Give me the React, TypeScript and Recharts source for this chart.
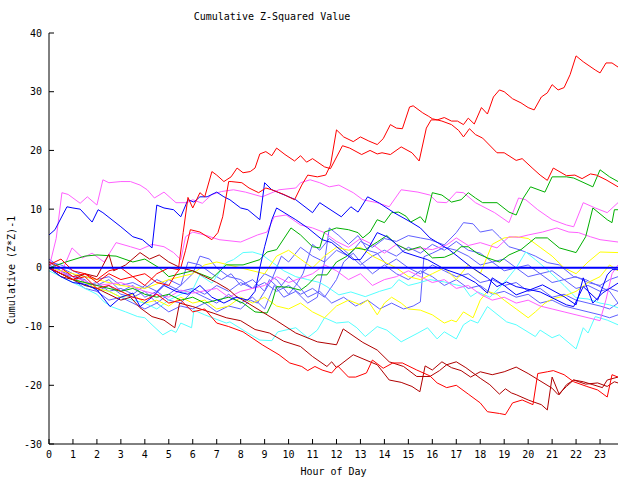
import { LineChart, Line, XAxis, YAxis } from 'recharts';

// each series: [hour, cumulative value]
const hours = [0, 1, 2, 3, 4, 5, 6, 7, 8, 9, 10, 11, 12, 13, 14, 15, 16, 17, 18, 19, 20, 21, 22, 23];
const yTicks = [-30, -20, -10, 0, 10, 20, 30, 40];

const red1 = [[0,1],[0.5,0],[1,-1.5],[1.5,-1],[2,-2.5],[2.5,-1],[3,-2],[3.5,-1.5],[4,-3],[4.5,-1],[5,0],[5.4,-0.3],[5.6,6],[5.8,12],[6,10.2],[6.3,12.8],[6.5,12.1],[6.8,16.4],[7,15.8],[7.3,14.7],[7.6,15.5],[7.85,17],[8.1,16.2],[8.4,16.4],[8.6,17],[8.8,19.4],[9.05,19.8],[9.3,19.1],[9.5,20.4],[9.85,19.3],[10.25,18.2],[10.5,19.1],[10.75,18],[11,18.6],[11.5,17.2],[11.75,16.9],[12.25,20.8],[12.55,20.4],[13.05,19.3],[13.4,20],[13.7,19.4],[13.9,19.6],[14.25,19.3],[14.7,20.6],[15.15,19.6],[15.45,18.2],[15.75,23.8],[15.95,25.2],[16.2,25.2],[16.5,25.6],[16.8,25],[17.05,25],[17.3,24.4],[17.5,25.5],[17.75,24.5],[18.05,27.3],[18.3,26.2],[18.55,29.1],[18.8,30.3],[19,30],[19.35,28.8],[19.7,28.1],[20,27.3],[20.25,26.9],[20.55,29.1],[20.8,29.8],[21,31.2],[21.25,30.3],[21.5,30.7],[21.75,32.9],[22,36.1],[22.3,35.1],[22.8,33.7],[23,33.2],[23.25,34.9],[23.5,34.9],[23.75,34.2]];
const red2 = [[0,0.5],[0.5,1.5],[1,-0.5],[1.5,-1],[2,-2],[2.5,-0.5],[3,0],[3.5,-1.5],[4,-1],[4.5,-2.5],[5,-3],[5.3,-1],[5.5,0],[5.7,3],[5.9,6.5],[6.3,6.1],[6.8,4.8],[7.05,6],[7.25,8.7],[7.5,14.7],[7.6,14.7],[8.05,14.5],[8.35,13.6],[8.75,12.8],[9.05,13.6],[9.3,13.3],[9.8,12.5],[10.25,11.6],[10.55,14.1],[10.8,15.8],[11.2,15.5],[11.55,15.8],[11.75,17.5],[12,23.5],[12.3,22.3],[12.7,21.5],[13,22.3],[13.35,21.6],[13.7,21],[13.95,22],[14.25,24.4],[14.5,23.8],[14.75,23.7],[15.05,27.4],[15.2,27.6],[15.6,26.4],[15.85,25.8],[16,25.4],[16.4,25],[16.8,24.4],[17.1,23.4],[17.3,22.3],[17.55,23.7],[17.8,22.7],[18.1,22.1],[18.7,19.6],[19,19.6],[19.5,18.3],[19.75,18.6],[20.2,16.9],[20.5,15.8],[20.8,14.9],[21.05,17],[21.6,15.7],[21.95,15.8],[22.25,15.2],[22.6,16],[22.85,15.8],[23.25,15],[23.75,13.8]];
const red3 = [[0,0],[0.5,-1],[1,-2],[1.5,-1.5],[2,-3.5],[2.5,-3],[3,-4],[3.5,-5],[4,-5.5],[4.5,-4.5],[5,-6],[5.5,-5.5],[6,-7.5],[6.5,-7],[7,-9.4],[7.5,-10],[8.1,-10.9],[8.9,-13.1],[9.6,-14.8],[10.05,-16.2],[10.55,-16.8],[10.8,-17.5],[11.1,-16.8],[11.4,-17.4],[11.8,-17.9],[12.05,-16.7],[12.5,-18.6],[12.8,-18.6],[13.25,-17.9],[13.5,-15.7],[13.95,-17.1],[14.35,-16.2],[14.75,-16.2],[15.35,-17.4],[15.9,-18.4],[16.2,-19.6],[16.6,-20.4],[17,-20],[17.5,-21.5],[18,-23],[18.3,-24.5],[18.8,-24.8],[19.05,-25],[19.35,-23],[19.75,-22.5],[20.2,-23.3],[20.4,-18],[20.8,-17.7],[21.05,-17.5],[21.5,-18.2],[21.9,-19.4],[22.45,-20.2],[22.9,-20.8],[23.3,-22],[23.5,-18.2],[23.75,-18.6]];
const darkRed1 = [[0,0],[0.5,-1],[1,-2],[1.5,-1],[2,-1.5],[2.5,2.3],[2.7,-0.5],[3.2,0.5],[3.8,2.6],[4.2,1.5],[4.6,2.2],[5,1],[5.5,0],[6,-0.5],[6.5,-1.5],[7,-2.5],[7.5,-3.7],[7.8,-4.8],[8.3,-6],[8.9,-7.5],[9.5,-9],[10.3,-11.1],[11.2,-12.6],[12,-13.1],[12.28,-10.4],[13.1,-12.7],[13.7,-14],[14.2,-16],[14.8,-16.8],[15.35,-18.5],[15.9,-18.5],[16.3,-17.5],[16.6,-16.5],[17,-16],[17.4,-17],[18,-18.8],[18.4,-19.9],[18.8,-21.5],[19.05,-20.6],[19.3,-21.3],[19.5,-21.6],[20,-22.5],[20.2,-22.8],[20.55,-23.3],[20.8,-24.2],[21,-18.6],[21.3,-21.6],[21.6,-19.9],[21.9,-19.1],[22.3,-19.4],[22.7,-19.9],[23.1,-20.4],[23.3,-19.1],[23.75,-18.6]];
const darkRed2 = [[0,0],[0.5,-1.5],[1,-2],[1.5,-3],[2,-3.5],[2.5,-4.5],[3,-5.5],[3.4,-5],[3.8,-6.8],[4.3,-8.3],[4.8,-8.9],[5.25,-10.2],[5.45,-6],[6,-6.6],[6.85,-7.7],[7.4,-8.5],[8,-9],[8.6,-10.5],[9.2,-11.1],[9.8,-12.5],[10.5,-13.4],[11,-15.1],[11.6,-16.8],[11.8,-16],[12,-17],[12.7,-14.8],[13.4,-16],[13.7,-16.5],[14.2,-19.1],[14.7,-19.5],[15.15,-20.2],[15.48,-21.1],[15.7,-16.7],[16,-17.4],[16.4,-16],[16.8,-17],[17.2,-17.5],[17.6,-18.6],[18,-17.7],[18.5,-18.2],[19,-17.7],[19.5,-16.9],[20,-18],[20.4,-19],[21,-20.5],[21.25,-21.6],[21.6,-20.2],[21.9,-19.1],[22.4,-19.8],[22.9,-19.6],[23.3,-20.2],[23.6,-19.4],[23.75,-19.6]];
const magenta1 = [[0,0],[0.3,5],[0.54,12.8],[0.8,12.5],[1,11.9],[1.3,11],[1.6,12.1],[2,10.7],[2.25,15],[2.5,14.5],[3,14.7],[3.4,14.7],[3.8,14.1],[4.1,13.3],[4.4,11.9],[4.8,12.9],[5.3,11.1],[5.75,11.1],[6,11.6],[6.4,11],[6.8,12.5],[7.2,13],[7.7,13.3],[8.2,12.9],[8.9,12.1],[9.6,13.3],[10.3,13.6],[10.5,14.5],[10.9,15],[11.3,14.5],[11.7,13.8],[12.1,14.1],[12.7,12.8],[13.1,11.6],[13.7,11.1],[14.2,10.4],[14.7,13.3],[15.4,12.9],[15.9,12.4],[16.2,11.2],[16.6,11.1],[17,12.9],[17.3,12.8],[17.8,11.1],[18.6,9.4],[19.2,7.7],[19.6,11.9],[19.9,11.6],[20.4,9.9],[21,8.2],[21.6,7.3],[21.9,7],[22.3,11.1],[22.8,10.2],[23.3,9.4],[23.75,11.1]];
const magenta2 = [[0,0],[0.5,-1],[0.96,3.4],[1.4,1.7],[1.8,2.5],[2.3,1],[2.8,4.3],[3.4,3.6],[3.8,3.1],[4.3,4],[4.8,3.6],[5.2,2.6],[5.5,1.4],[5.7,5.3],[6,6.1],[6.5,5.6],[7.1,4.8],[8,4.4],[8.7,5.6],[9.1,6.1],[9.4,8.7],[9.9,9],[10.5,7.3],[11,6.8],[11.5,6],[12,4.5],[12.5,3.5],[13,5],[13.5,4],[14,2.5],[14.5,4],[15,3],[15.5,3.4],[16,3.1],[16.6,3.9],[17,5.1],[17.5,3.8],[18,4.3],[18.7,3.4],[19.2,5.3],[19.6,5.2],[20,5.6],[20.6,6.1],[21.2,6.8],[21.7,6.1],[22.1,6],[22.6,5.3],[23,4.8],[23.75,4.4]];
const magenta3 = [[0,0],[1,-1.5],[2,-3],[3,-2.5],[4,-4],[5,-5],[5.5,-3.8],[6,-4.3],[7,-3.5],[7.5,-5],[8,-4],[9,-3],[9.5,-1.5],[10,-2.5],[11,-1],[11.5,0.5],[12,-0.5],[12.5,-2],[13,-1],[13.5,-3],[14,-2],[14.5,-1.5],[15,-0.5],[15.5,-1.5],[16,-2.5],[16.5,-2],[17,-3.5],[17.5,-3],[18,-4.5],[18.5,-5.5],[19,-5],[19.5,-6],[20,-5.5],[20.5,-6.5],[21,-7],[21.5,-7.5],[22,-8],[22.5,-8.5],[23,-9],[23.25,-5.4],[23.5,-1],[23.75,0.5]];
const cyan1 = [[0,-0.5],[0.5,-1.5],[1,-2.5],[1.5,-3.5],[2,-4.5],[2.3,-5.8],[2.6,-6.6],[3.2,-7.5],[3.7,-8.3],[4,-8.5],[4.3,-9.7],[4.75,-11.4],[5.1,-10.6],[5.3,-11],[5.5,-9.4],[5.95,-10.2],[6.05,-7.2],[6.5,-8],[7.4,-9.4],[7.55,-9.2],[8.3,-11.1],[8.8,-12.3],[9.3,-12.4],[9.55,-10.9],[10.3,-10.2],[10.8,-11.9],[11.2,-10.6],[11.5,-8.5],[12,-9.4],[12.5,-9.2],[12.85,-10.2],[13.2,-11.7],[13.7,-10],[14.1,-10.6],[14.7,-12.6],[15.4,-11.1],[15.8,-10.2],[16.2,-12.1],[16.5,-10.9],[17,-12.1],[17.3,-9.7],[17.6,-8.9],[17.9,-9.4],[18.3,-6.6],[19.1,-9.2],[19.5,-9.7],[20.3,-11.7],[20.5,-10.6],[21,-11.9],[21.3,-11.4],[22,-13.8],[22.3,-10.2],[22.5,-11.1],[22.8,-8.3],[23.3,-8.9],[23.75,-9.7]];
const cyan2 = [[0,0],[0.5,-1],[1,-2],[1.5,-3],[2,-3.5],[2.5,-4],[3,-5],[3.5,-5.5],[4,-6],[4.5,-7],[5,-5.5],[5.5,-4.5],[6,-3.7],[6.3,-1.2],[6.8,-2.6],[7.4,0.9],[7.7,1.4],[8.1,2.6],[8.5,2.7],[8.9,2.2],[9.3,1],[9.8,-0.5],[10.3,-1.5],[10.8,-2],[11.3,-2.5],[11.6,-3.2],[12.1,-4.6],[12.6,-4.1],[13.2,-4.9],[13.8,-4],[14.3,-3.4],[14.6,-2],[15,-3],[15.4,-2.6],[15.9,-2],[16.5,-2.4],[17,-2.9],[17.3,-3.2],[17.6,-4.9],[17.9,-4.1],[18.4,-5],[18.8,-3.4],[19.1,-2],[19.5,0],[19.9,2.7],[20.3,1.4],[20.8,-0.3],[21.5,-3],[22,-5.1],[22.5,-5.3],[23,-6],[23.4,-6.3],[23.75,-6.8]];
const yellow1 = [[0,0],[0.5,-1],[1,-2],[1.5,-2.5],[2,-3.5],[2.5,-4],[3,-5],[3.5,-4.5],[4,-6],[4.5,-5.5],[5,-6.5],[5.5,-5],[6,-6],[6.5,-5.5],[7,-7],[7.5,-6.5],[8,-5],[8.5,-6],[9,-5],[9.5,-6.5],[10,-7],[10.5,-6],[11,-7.5],[11.5,-8.5],[12,-6.5],[12.5,-5.5],[13,-6.3],[13.3,-5.5],[13.7,-8],[14,-6],[14.3,-5],[14.7,-6],[15,-7],[15.5,-7.2],[16,-8],[16.5,-9.4],[16.8,-8.9],[17,-9.2],[17.3,-7.5],[17.7,-8.5],[18,-5.5],[18.3,-4],[18.7,-4.5],[19,-5.5],[19.5,-7],[20,-8.5],[20.3,-7.5],[20.7,-6],[21,-5.3],[21.5,-4.8],[22,-4],[22.5,-2.5],[23,-1.5],[23.4,0.5],[23.75,-0.5]];
const yellow2 = [[0,0],[1,-1],[2,-2],[3,-3],[4,-3.5],[5,-2],[6,-1],[6.5,0.5],[7,1],[8,0],[9,-1],[9.5,2],[10,3],[10.5,1.5],[11,0],[11.5,2],[12,3.5],[12.5,3],[13,3.5],[13.5,2],[14,1],[14.5,0],[15,-1.5],[15.5,-2],[16,-1],[16.5,0],[17,-2],[17.5,0.5],[18,-1],[18.5,4],[19,5.1],[19.5,5.3],[20,5],[20.5,3.5],[21,2],[21.5,0],[22,-1],[22.5,1],[23,2.7],[23.75,2.6]];
const green1 = [[0,0],[0.7,1],[1.5,2],[2,2.2],[2.8,2],[3.5,1],[4,1.5],[4.6,0],[5,-1.5],[5.5,-1],[6,-0.5],[6.8,-1.8],[7.4,0.5],[8.1,0.5],[8.8,1.4],[9.1,2.7],[9.5,3.1],[10.1,6.8],[10.5,5.6],[11,3.6],[11.3,3.4],[11.5,6.1],[12,6.8],[12.5,6.5],[12.9,6],[13.1,5.1],[13.4,6.1],[13.7,8.2],[14,7.7],[14.3,9.4],[14.6,9.5],[14.9,8.8],[15.1,7.8],[15.5,8.7],[15.7,7.7],[16,12.8],[16.4,12.4],[16.8,11.2],[17.2,11.6],[17.5,12.8],[17.8,11.9],[18.1,11.1],[18.7,11.1],[19.2,9.5],[19.5,9],[19.8,11.9],[20.1,13.8],[20.7,12.9],[21,15.5],[21.6,15.5],[21.9,15.3],[22.7,13.8],[23,16.7],[23.4,15.5],[23.75,14.7]];
const green2 = [[0,0],[0.5,-1],[1,-2],[1.5,-2.5],[2,-3],[2.5,-3.5],[3,-4],[3.5,-3.5],[4,-4.5],[4.5,-5],[5,-4.5],[5.5,-5.5],[6,-5],[6.5,-6],[7,-5.5],[7.5,-5],[8.1,-6],[8.6,-7.5],[9.1,-7.7],[9.3,-6],[9.5,-3.2],[10,-3.3],[10.5,-3.8],[10.8,-2.9],[11.2,-1.2],[11.6,-1.2],[12,1],[12.4,1.9],[12.8,3.4],[13.2,3.1],[13.7,4.4],[14.1,5.5],[14.5,4],[15,3],[15.5,3.6],[16,1.7],[16.5,1.8],[16.9,2.5],[17.2,3.6],[17.5,3.6],[17.9,2.4],[18.3,1.7],[18.8,1],[19.2,2.2],[19.7,3.1],[20.3,5.1],[20.8,5.1],[21.3,3.4],[22,2.6],[22.4,5.3],[22.7,10.2],[23.3,8.2],[23.5,7.7],[23.6,9.9],[23.75,9.9]];
const blue1 = [[0,5.6],[0.25,6.5],[0.75,10.4],[1,10.2],[1.3,10],[1.8,7.8],[2.05,9.9],[2.25,9.4],[3,7],[3.5,5.3],[3.9,4.8],[4.3,3.4],[4.5,10.7],[4.8,10.2],[5.2,9.9],[5.5,8.7],[5.8,11.6],[6.05,11.2],[6.3,12.1],[6.6,12.1],[7,12.9],[7.3,12.1],[7.55,11.6],[8,10.2],[8.3,9.9],[8.8,8.2],[9,14.5],[9.3,13.3],[9.6,12.8],[10.3,11.6],[11,9.4],[11.3,11.1],[12.2,8.7],[12.6,10.4],[12.9,9.5],[13.3,12.1],[13.8,11],[14.4,9.4],[15.1,7.8],[15.5,6.8],[15.9,5.1],[16.7,3.1],[17.6,0.2],[18.3,-1.7],[18.7,-3.2],[19.1,-2.4],[19.5,-3.2],[20.5,-4.1],[21.6,-6.3],[21.9,-6.6],[22.3,-3.2],[22.9,-5.5],[23.3,-1.2],[23.5,-0.3],[23.75,-0.3]];
const blue2 = [[0,0],[0.5,-1.5],[1,-2.5],[1.5,-2.8],[2,-3.7],[2.55,-6.6],[3,-5],[3.5,-4.3],[3.8,-6.6],[4.3,-5],[4.8,-3],[5.3,-4],[5.8,-4.5],[6.3,-3],[6.8,-5],[7.3,-6],[7.8,-5],[8.3,-5.5],[8.6,-4],[8.8,0],[9,3.6],[9.3,8.2],[9.5,10.2],[10.3,8.2],[10.8,6.8],[11.4,4.8],[11.8,4.3],[12.3,2.6],[12.7,1.4],[13,1.4],[13.3,3.1],[13.7,6],[14.1,5.3],[14.4,4.4],[14.8,2.7],[15.4,1.9],[15.8,1.4],[16.5,-0.2],[17.2,-1.2],[17.8,-2.5],[18.3,-4.3],[18.5,-1.7],[19,-3],[19.5,-4.6],[20.1,-3.7],[20.6,-2.9],[21.5,-4.9],[22,-6.3],[22.3,-1.7],[22.7,-6],[23.1,-4.3],[23.75,-2.6]];
const slate1 = [[0,1.5],[0.5,0],[1,-1],[1.5,-2.5],[2,-3],[2.5,-2],[3,-4],[3.5,-3],[4,-5],[4.5,-4],[5,-5.5],[5.5,-6],[6,-4],[6.5,-5],[7,-6],[7.5,-4.5],[8,-6],[8.5,-5],[9,-7],[9.4,-3],[9.8,-5],[10.3,-4],[10.8,-6],[11.2,-5],[11.5,1],[11.7,6.8],[12.1,5.5],[12.5,4],[12.9,5.5],[13.3,3],[13.7,2.5],[14.1,0.5],[14.5,1.5],[15,0],[15.5,-1],[16,0.5],[16.5,-0.5],[17,-1.5],[17.5,-1],[18,-2.5],[18.5,-2],[19,-3],[19.5,-2.5],[20,-4],[20.5,-3.5],[21,-5],[21.5,-4.5],[22,-5.5],[22.5,-6],[23,-6.5],[23.4,-7],[23.75,-6]];
const slate2 = [[0,1],[0.5,-0.5],[1,-1.5],[1.5,-2],[2,-4],[2.5,-3],[3,-4.5],[3.5,-5],[4,-4],[4.5,-6],[5,-4.5],[5.5,-3],[5.8,1],[6.3,0.5],[6.8,-1],[7.2,-2],[7.6,-1],[8,-3],[8.5,-2],[9,-4],[9.3,-2],[9.7,2],[10,1],[10.5,3.5],[11,2],[11.5,1],[12,3],[12.5,2],[13,4.5],[13.5,3.5],[14,5],[14.5,4.5],[15,5.5],[15.5,5.1],[15.9,4.8],[16.5,3.9],[17,6],[17.3,7.7],[17.7,7.5],[18,6.1],[18.5,6.5],[18.8,5.3],[19.2,3.6],[19.7,3],[20.3,2],[20.8,0.9],[21.3,0.5],[21.9,-1.5],[22.4,-2],[23,-3.2],[23.4,-4],[23.75,-6]];
const slate3 = [[0,0.5],[0.5,-0.5],[1,-2],[1.5,-3.5],[2,-4],[2.5,-5.5],[3,-5],[3.5,-6],[4,-7],[4.5,-6],[5,-7.5],[5.5,-6.5],[6,-7],[6.5,-6],[7,-7.5],[7.5,-6.5],[8,-7],[8.4,-5.5],[8.7,-6],[9,-4],[9.2,-2],[9.6,-3.5],[10,-1.5],[10.4,-3],[10.8,-5],[11.3,-4],[11.8,-6],[12.3,-5],[12.8,-6.5],[13.3,-5.5],[13.8,-7],[14.3,-6],[14.8,-7],[15.2,-6.5],[15.5,-5.8],[15.65,1.9],[16,2.5],[16.5,3.5],[17,3],[17.5,2],[18,0.5],[18.5,1],[19,-0.5],[19.5,0],[20,-1.5],[20.5,-1],[21,-2.5],[21.5,-2],[22,-3.5],[22.5,-3],[23,-4],[23.4,-3.5],[23.75,-4]];
const slate4 = [[0,1],[0.5,0.5],[1,-0.5],[1.5,-1.5],[2,-2],[2.5,-1.5],[3,-3],[3.5,-2.5],[4,-3.5],[4.5,-2],[5,-3],[5.5,-4],[6,-3.5],[6.5,-4.5],[7,-3],[7.5,-4],[8,-2.5],[8.5,-3.5],[9,-1],[9.5,-2],[10,-4.5],[10.3,-3],[10.6,-1],[11,4],[11.3,3],[11.7,5],[12.2,3.5],[12.6,2],[13,0.5],[13.5,2],[14,3],[14.5,2],[15,3.5],[15.5,2.5],[16,4],[16.5,3],[17,4.5],[17.5,3],[18,2.5],[18.5,1],[19,1.5],[19.5,0],[20,0.5],[20.5,-1],[21,-0.5],[21.5,-2],[22,-1.5],[22.5,-2.5],[23,-3],[23.4,-2],[23.75,-1.5]];
const slate5 = [[0,0],[0.5,-1],[1,-1.5],[1.5,-3],[2,-2.5],[2.5,-4],[3,-3.5],[3.5,-4.5],[4,-3],[4.5,-4],[5,-2],[5.5,-3],[6,-1],[6.3,2],[6.7,1.5],[7,0],[7.5,-1.5],[8,-2],[8.5,-3.5],[9,-2.5],[9.5,-4],[10,-3],[10.5,-4.5],[11,-3.5],[11.5,-5],[12,-2],[12.3,1],[12.7,2.5],[13,1],[13.5,-1],[14,0.5],[14.5,-1],[15,-2],[15.5,-0.5],[16,-1.5],[16.5,-3],[17,-2],[17.5,-3.5],[18,-3],[18.5,-4.5],[19,-4],[19.5,-5],[20,-4.5],[20.5,-6],[21,-5.5],[21.5,-6.5],[22,-7],[22.5,-7.5],[23,-8],[23.4,-8.5],[23.75,-8]];
const zeroLine = [[0,0],[23.75,0]];

const series = [
  { name: 'slate1', pts: slate1, color: '#6060ff' },
  { name: 'slate2', pts: slate2, color: '#6060ff' },
  { name: 'slate3', pts: slate3, color: '#6060ff' },
  { name: 'slate4', pts: slate4, color: '#6060ff' },
  { name: 'slate5', pts: slate5, color: '#6060ff' },
  { name: 'cyan1', pts: cyan1, color: '#55ffff' },
  { name: 'cyan2', pts: cyan2, color: '#55ffff' },
  { name: 'yellow1', pts: yellow1, color: '#ffff00' },
  { name: 'yellow2', pts: yellow2, color: '#ffff00' },
  { name: 'magenta1', pts: magenta1, color: '#ff60ff' },
  { name: 'magenta2', pts: magenta2, color: '#ff60ff' },
  { name: 'magenta3', pts: magenta3, color: '#ff60ff' },
  { name: 'green1', pts: green1, color: '#00b000' },
  { name: 'green2', pts: green2, color: '#00b000' },
  { name: 'darkRed1', pts: darkRed1, color: '#b00000' },
  { name: 'darkRed2', pts: darkRed2, color: '#b00000' },
  { name: 'blue1', pts: blue1, color: '#0000ff' },
  { name: 'blue2', pts: blue2, color: '#0000ff' },
  { name: 'red1', pts: red1, color: '#ff0000' },
  { name: 'red2', pts: red2, color: '#ff0000' },
  { name: 'red3', pts: red3, color: '#ff0000' },
];

const toPts = (arr: number[][]) => arr.map(([h, v]) => ({ h, v }));

const font = '"DejaVu Sans Mono", monospace';
const tickStyle = { fontFamily: font, fontSize: 10, fill: '#000' };

export default function App() {
  return (
    <div style={{ position: 'absolute', left: 0, top: 0, width: 640, height: 480, background: '#fff' }}>
      <div style={{ position: 'absolute', left: 272, top: 12, transform: 'translateX(-50%)', fontFamily: font, fontSize: 10, lineHeight: '10px', whiteSpace: 'nowrap' }}>
        Cumulative Z-Squared Value
      </div>
      <div style={{ position: 'absolute', left: 12, top: 270, transform: 'translate(-50%, -50%) rotate(-90deg)', fontFamily: font, fontSize: 10, lineHeight: '10px', whiteSpace: 'nowrap' }}>
        Cumulative (Z*Z)-1
      </div>
      <LineChart width={640} height={480} margin={{ top: 33, right: 22, bottom: 0, left: 0 }}>
        <XAxis
          dataKey="h"
          type="number"
          domain={[0, 23.75]}
          ticks={hours}
          interval={0}
          allowDataOverflow
          height={36}
          tickSize={-5}
          tickMargin={12}
          stroke="#000"
          tick={tickStyle}
          label={{ value: 'Hour of Day', position: 'insideBottom', offset: 5, style: { fontFamily: font, fontSize: 10, fill: '#000' } }}
        />
        <XAxis xAxisId="top" orientation="top" dataKey="h" type="number" domain={[0, 23.75]} ticks={hours} interval={0} allowDataOverflow height={0} tickSize={-5} tick={false} stroke="#000" />
        <YAxis
          type="number"
          domain={[-30, 40]}
          ticks={yTicks}
          interval={0}
          allowDataOverflow
          width={49}
          tickSize={-5}
          tickMargin={12}
          stroke="#000"
          tick={tickStyle}
        />
        <YAxis yAxisId="right" orientation="right" type="number" domain={[-30, 40]} ticks={yTicks} interval={0} allowDataOverflow width={0} tickSize={-5} tick={false} stroke="#000" />
        {series.map((s) => (
          <Line
            key={s.name}
            data={toPts(s.pts)}
            dataKey="v"
            type="linear"
            stroke={s.color}
            strokeWidth={1}
            dot={false}
            activeDot={false}
            isAnimationActive={false}
          />
        ))}
        <Line data={toPts(zeroLine)} dataKey="v" type="linear" stroke="#0000ff" strokeWidth={2} dot={false} activeDot={false} isAnimationActive={false} />
      </LineChart>
    </div>
  );
}
